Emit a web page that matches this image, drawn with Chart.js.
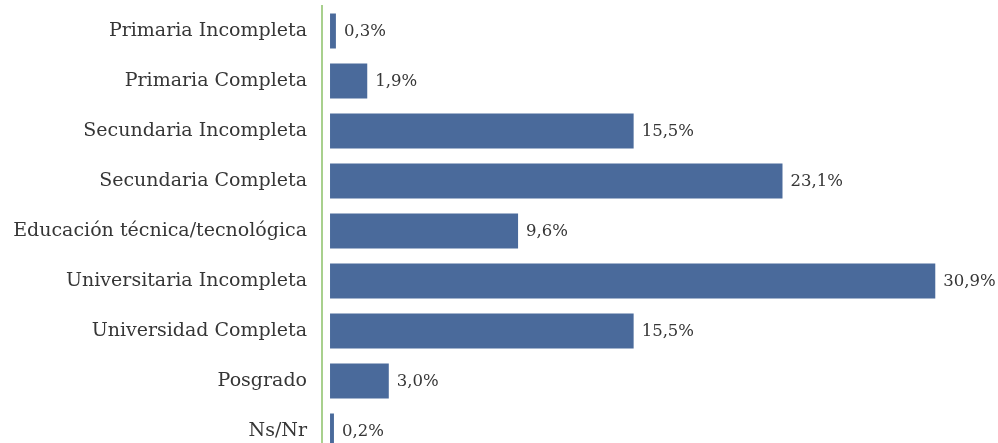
<!DOCTYPE html>
<html>
<head>
<meta charset="utf-8">
<script src="https://cdn.jsdelivr.net/npm/chart.js@4"></script>
<style>
  html, body { margin: 0; padding: 0; background: #fff; overflow: hidden; }
  canvas { display: block; }
</style>
</head>
<body>
<canvas id="eduChart" width="998" height="462"></canvas>
<script>
// Nivel educativo (%)
const categories = [
    'Primaria Incompleta',
    'Primaria Completa',
    'Secundaria Incompleta',
    'Secundaria Completa',
    'Educación técnica/tecnológica',
    'Universitaria Incompleta',
    'Universidad Completa',
    'Posgrado',
    'Ns/Nr'
];
const percentValues = [0.3, 1.9, 15.5, 23.1, 9.6, 30.9, 15.5, 3.0, 0.2];

const textColor = '#363636';
const serif = "'DejaVu Serif', 'Liberation Serif', serif";

// writes "xx,x%" right after each bar
const valueLabels = {
    id: 'valueLabels',
    afterDatasetsDraw(chart) {
        const ctx = chart.ctx;
        const meta = chart.getDatasetMeta(0);
        ctx.save();
        ctx.font = '16.5px ' + serif;
        ctx.fillStyle = textColor;
        ctx.textAlign = 'left';
        ctx.textBaseline = 'middle';
        meta.data.forEach((bar, i) => {
            const txt = percentValues[i].toFixed(1).replace('.', ',') + '%';
            ctx.fillText(txt, bar.x + 8, bar.y + 1);
        });
        ctx.restore();
    }
};

const ctx = document.getElementById('eduChart').getContext('2d');
new Chart(ctx, {
    type: 'bar',
    data: {
        labels: categories,
        datasets: [{
            data: percentValues,
            backgroundColor: '#4a6a9b',
            borderWidth: 0,
            barPercentage: 0.7,
            categoryPercentage: 1.0
        }]
    },
    options: {
        indexAxis: 'y',
        responsive: false,
        animation: false,
        layout: { padding: { top: 6, right: 2, left: 0, bottom: 6 } },
        scales: {
            x: {
                display: false,
                min: -0.41,
                max: 34
            },
            y: {
                // tick marks hidden, only used to push the labels 15px off the axis
                grid: { display: false, drawTicks: true, tickLength: 15 },
                border: { display: true, color: '#a8d08d', width: 2 },
                ticks: {
                    color: textColor,
                    padding: 0,
                    font: { family: serif, size: 19, lineHeight: 0.5 }
                },
                afterFit(scale) { scale.width = 322; }
            }
        },
        plugins: {
            legend: { display: false },
            tooltip: { enabled: false }
        }
    },
    plugins: [valueLabels]
});
</script>
</body>
</html>
